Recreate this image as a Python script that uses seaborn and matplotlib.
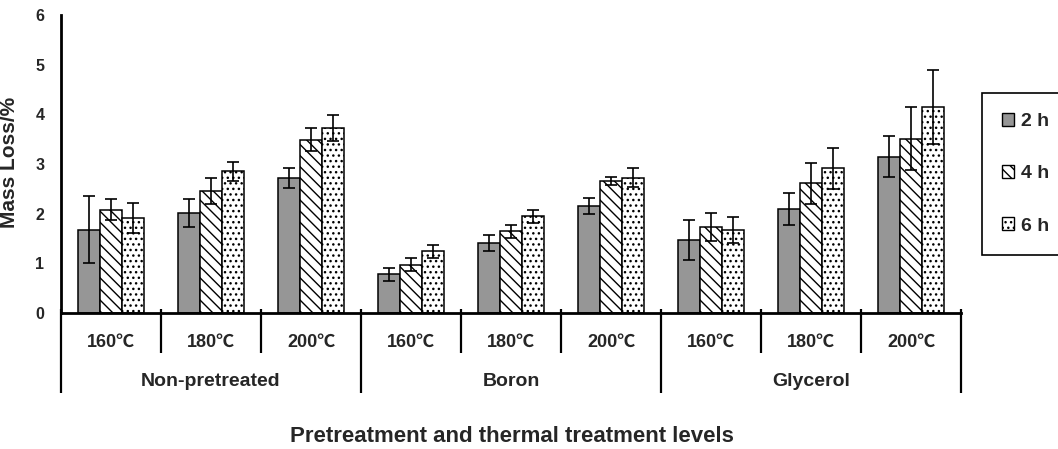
import matplotlib
matplotlib.use("Agg")
import matplotlib.pyplot as plt
from matplotlib.patches import Patch
import seaborn as sns
import pandas as pd
import numpy as np

# ---- data ----
groups = ["Non-pretreated", "Boron", "Glycerol"]
temps = ["160℃", "180℃", "200℃"]
times = ["2 h", "4 h", "6 h"]

mean_2h = [1.68, 2.01, 2.71, 0.78, 1.41, 2.15, 1.47, 2.10, 3.15]
mean_4h = [2.08, 2.45, 3.49, 0.97, 1.65, 2.65, 1.73, 2.61, 3.51]
mean_6h = [1.92, 2.85, 3.73, 1.24, 1.95, 2.72, 1.67, 2.91, 4.15]
err_2h = [0.67, 0.28, 0.20, 0.13, 0.17, 0.16, 0.40, 0.32, 0.42]
err_4h = [0.21, 0.26, 0.23, 0.13, 0.13, 0.08, 0.28, 0.41, 0.63]
err_6h = [0.30, 0.20, 0.26, 0.13, 0.13, 0.19, 0.27, 0.42, 0.75]

y_ticks = [0, 1, 2, 3, 4, 5, 6]
y_label = "Mass Loss/%"
x_title = "Pretreatment and thermal treatment levels"

# ---- table ----
levels = [f"{g} {t}" for g in groups for t in temps]
means = [mean_2h, mean_4h, mean_6h]
errs = [err_2h, err_4h, err_6h]
rows = []
for ti, tm in enumerate(times):
    for li, lv in enumerate(levels):
        rows.append({"level": lv, "time": tm, "value": means[ti][li], "err": errs[ti][li]})
df = pd.DataFrame(rows)

# ---- style ----
sns.set_style("white")
plt.rcParams["font.family"] = ["Liberation Sans", "Noto Sans CJK SC", "DejaVu Sans"]
plt.rcParams["font.weight"] = "bold"
plt.rcParams["hatch.linewidth"] = 1.0
plt.rcParams["hatch.color"] = "black"

colors = ["#969696", "white", "white"]
hatches = [None, "\\\\\\", "..."]

fig = plt.figure(figsize=(10.58, 4.49), dpi=100)
L, R, T, B = 61, 961, 15, 313
ax = fig.add_axes([L / 1058, 1 - B / 449, (R - L) / 1058, (B - T) / 449])

sns.barplot(data=df, x="level", y="value", hue="time", order=levels,
            hue_order=times, palette=colors, width=0.66, errorbar=None,
            edgecolor="black", linewidth=1.1, saturation=1, legend=False, ax=ax)

bar_containers = list(ax.containers)[:3]
for ci, cont in enumerate(bar_containers):
    xs = []
    for bar in cont:
        if hatches[ci]:
            bar.set_hatch(hatches[ci])
        xs.append(bar.get_x() + bar.get_width() / 2)
    ax.errorbar(xs, means[ci], yerr=errs[ci], fmt="none", ecolor="black",
                elinewidth=1.2, capsize=4.5, capthick=1.2, zorder=5)

ax.set_xlim(-0.5, len(levels) - 0.5)
ax.set_ylim(0, 6)
ax.set_yticks(y_ticks)
ax.set_yticklabels([str(v) for v in y_ticks], fontsize=11.5, fontweight="bold")
ax.tick_params(axis="y", direction="in", length=3, width=1.5, pad=12)
ax.set_xticks([])
ax.set_xlabel("")
ax.set_ylabel(y_label, fontsize=15, fontweight="bold")
ax.yaxis.set_label_coords((19 - L) / (R - L), (B - 162) / (B - T))

for s in ["top", "right"]:
    ax.spines[s].set_visible(False)
for s in ["left", "bottom"]:
    ax.spines[s].set_linewidth(2.0)
    ax.spines[s].set_color("black")

# hierarchical category axis
trans = ax.get_xaxis_transform()
h = B - T
y_top = 4 / h
y_short = -(353 - B) / h
y_long = -(393 - B) / h
for i in range(len(levels) + 1):
    xb = i - 0.5
    yb = y_long if i % 3 == 0 else y_short
    ax.plot([xb, xb], [y_top, yb], color="black", lw=1.6, transform=trans,
            clip_on=False, solid_capstyle="butt")

for i, lv in enumerate(levels):
    ax.text(i, -(342 - B) / h, temps[i % 3], transform=trans, ha="center",
            va="center", fontsize=13, fontweight="bold")
for gi, g in enumerate(groups):
    ax.text(gi * 3 + 1, -(381 - B) / h, g, transform=trans, ha="center",
            va="center", fontsize=14, fontweight="bold")
ax.text(0.501, -(437 - B) / h, x_title, transform=ax.transAxes, ha="center",
        va="center", fontsize=16, fontweight="bold")

# legend
handles = [Patch(facecolor=colors[i], edgecolor="black", hatch=hatches[i],
                 linewidth=1.0) for i in range(3)]
leg = fig.legend(handles, times, loc="upper left",
                 bbox_to_anchor=(982 / 1058, 1 - 93 / 449),
                 bbox_transform=fig.transFigure, frameon=True, fancybox=False,
                 edgecolor="black", framealpha=1, prop={"size": 14, "weight": "bold"},
                 handlelength=0.6, handleheight=0.6, labelspacing=1.8,
                 handletextpad=0.35, borderpad=1.05, borderaxespad=0)
leg.get_frame().set_linewidth(1.2)

fig.savefig("out.png", dpi=100)
